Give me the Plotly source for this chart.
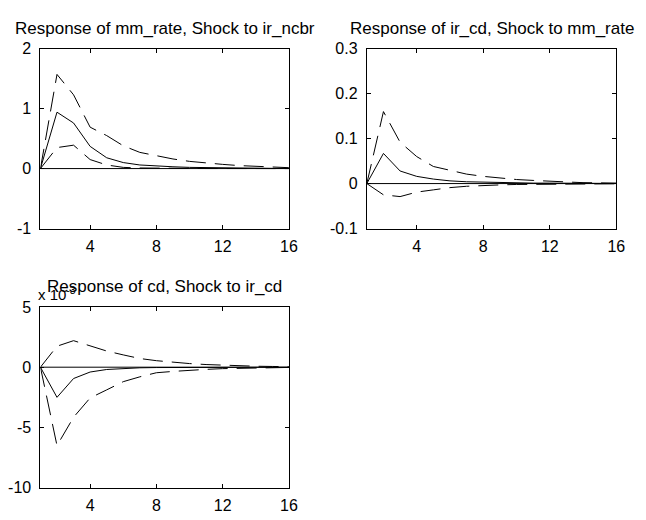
import plotly.graph_objects as go

steps = list(range(1, 17))

# Panel 1: Response of mm_rate, Shock to ir_ncbr
p1_mid = [0, 0.94, 0.76, 0.37, 0.18, 0.10, 0.06, 0.04, 0.03, 0.02, 0.015, 0.01, 0.008, 0.006, 0.004, 0.003]
p1_up = [0, 1.57, 1.23, 0.69, 0.55, 0.38, 0.27, 0.21, 0.16, 0.12, 0.09, 0.07, 0.05, 0.035, 0.025, 0.015]
p1_lo = [0, 0.35, 0.39, 0.15, 0.06, 0.02, 0.01, 0.005, 0.003, 0.002, 0.001, 0.001, 0.0, 0.0, 0.0, 0.0]

# Panel 2: Response of ir_cd, Shock to mm_rate
p2_mid = [0, 0.067, 0.028, 0.016, 0.010, 0.006, 0.004, 0.003, 0.002, 0.0015, 0.001, 0.001, 0.0008, 0.0005, 0.0004, 0.0003]
p2_up = [0, 0.160, 0.092, 0.060, 0.038, 0.030, 0.021, 0.016, 0.012, 0.009, 0.007, 0.005, 0.003, 0.002, 0.0015, 0.001]
p2_lo = [0, -0.025, -0.029, -0.019, -0.014, -0.009, -0.006, -0.004, -0.003, -0.002, -0.0015, -0.001, -0.001, -0.0008, -0.0006, -0.0005]

# Panel 3: Response of cd, Shock to ir_cd (units of 10^-3)
p3_mid = [0, -2.5, -0.94, -0.40, -0.19, -0.10, -0.05, -0.03, -0.02, -0.01, -0.005, 0.0, 0.0, 0.0, 0.0, 0.0]
p3_up = [0, 1.74, 2.2, 1.8, 1.34, 1.02, 0.72, 0.54, 0.40, 0.30, 0.22, 0.16, 0.12, 0.08, 0.06, 0.04]
p3_lo = [0, -6.5, -4.15, -2.55, -1.88, -1.2, -0.8, -0.46, -0.35, -0.25, -0.18, -0.12, -0.08, -0.05, -0.03, -0.02]
zero_line = [0] * 16

titles = ["Response of mm_rate, Shock to ir_ncbr",
          "Response of ir_cd, Shock to mm_rate",
          "Response of cd, Shock to ir_cd"]
x_ticks = [4, 8, 12, 16]
y_ticks = [[-1, 0, 1, 2], [-0.1, 0, 0.1, 0.2, 0.3], [-10, -5, 0, 5]]
y_tick_text = [["-1", "0", "1", "2"], ["-0.1", "0", "0.1", "0.2", "0.3"], ["-10", "-5", "0", "5"]]
y_ranges = [[-1, 2], [-0.1, 0.3], [-10, 5]]
panels = [(p1_mid, p1_up, p1_lo), (p2_mid, p2_up, p2_lo), (p3_mid, p3_up, p3_lo)]

W, H = 646, 520
boxes = [(41, 293, 42, 228), (372, 625, 42, 228), (41, 293, 309, 496)]

FONT = "Liberation Sans, Arial, sans-serif"
fig = go.Figure()
layout = dict(width=W, height=H, autosize=False, margin=dict(l=0, r=0, t=0, b=0, pad=0),
              paper_bgcolor="white", plot_bgcolor="white", showlegend=False,
              font=dict(family=FONT, size=16, color="black"))
annotations = []
for i, (mid, up, lo) in enumerate(panels):
    n = "" if i == 0 else str(i + 1)
    xa, ya = "x" + n, "y" + n
    dash = "20px,9px"
    fig.add_trace(go.Scatter(x=steps, y=zero_line, mode="lines", line=dict(color="black", width=1), xaxis=xa, yaxis=ya))
    fig.add_trace(go.Scatter(x=steps, y=up, mode="lines", line=dict(color="black", width=1, dash=dash), xaxis=xa, yaxis=ya))
    fig.add_trace(go.Scatter(x=steps, y=mid, mode="lines", line=dict(color="black", width=1), xaxis=xa, yaxis=ya))
    fig.add_trace(go.Scatter(x=steps, y=lo, mode="lines", line=dict(color="black", width=1, dash=dash), xaxis=xa, yaxis=ya))
    l, r, t, b = boxes[i]
    xd = [l / W, r / W]
    yd = [1 - b / H, 1 - t / H]
    layout["xaxis" + n] = dict(domain=xd, range=[1, 16], tickvals=x_ticks, ticks="inside", ticklen=4,
                               showline=True, linecolor="black", linewidth=1, mirror="ticks",
                               showgrid=False, zeroline=False, anchor=ya, tickcolor="black",
                               ticklabelstandoff=3, tickfont=dict(size=16))
    layout["yaxis" + n] = dict(domain=yd, range=y_ranges[i], tickvals=y_ticks[i], ticktext=y_tick_text[i],
                               ticks="inside", ticklen=4,
                               showline=True, linecolor="black", linewidth=1, mirror="ticks",
                               showgrid=False, zeroline=False, anchor=xa, tickcolor="black",
                               ticklabelstandoff=5, tickfont=dict(size=16))
    annotations.append(dict(text=titles[i], xref="paper", yref="paper", x=(xd[0] + xd[1]) / 2, y=yd[1],
                            xanchor="center", yanchor="bottom", yshift=9, showarrow=False,
                            font=dict(family=FONT, size=17, color="black")))

annotations.append(dict(text="x 10<sup>-3</sup>", xref="paper", yref="paper", x=37 / W, y=1 - 307 / H,
                        xanchor="left", yanchor="bottom", showarrow=False,
                        font=dict(family=FONT, size=15, color="black")))
layout["annotations"] = annotations
fig.update_layout(**layout)
fig.write_html("out.html", config={"displayModeBar": False},
               post_script="document.body.style.margin='0';document.body.style.overflow='hidden';")
